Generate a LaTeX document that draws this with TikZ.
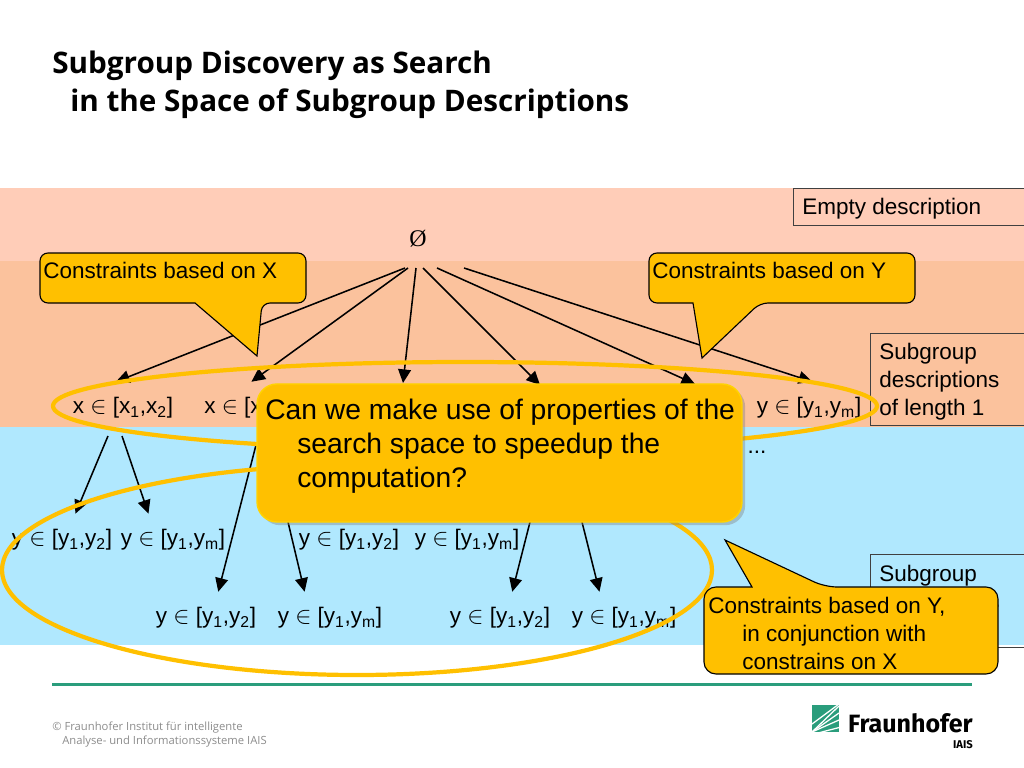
\documentclass[tikz,border=0pt]{standalone}
\usepackage{fontspec}
\setmainfont{Liberation Sans}
\newfontfamily\titlefont{Open Sans}
\newfontfamily\rootfont{Liberation Serif}
\newfontfamily\logofont{Fira Sans}
\usetikzlibrary{arrows.meta, positioning, shadows}
\definecolor{bandpink}{HTML}{FFCDB8}
\definecolor{bandorange}{HTML}{FBC29D}
\definecolor{bandblue}{HTML}{B0E8FE}
\definecolor{callyellow}{HTML}{FFC000}
\definecolor{rulegreen}{HTML}{2A9D7C}
\definecolor{footgray}{HTML}{8C8C8C}
\newcommand{\lo}[1]{\textsubscript{#1}}
\newcommand{\xin}[2]{x $\in$ [x\lo{#1},x\lo{#2}]}
\newcommand{\yin}[2]{y $\in$ [y\lo{#1},y\lo{#2}]}
\tikzset{
  labelbox/.style={draw=black!75, line width=0.7pt},
  labeltext/.style={anchor=north west, inner sep=0pt, align=left, font=\fontsize{16pt}{19.8pt}\selectfont},
  term/.style={inner sep=0pt, minimum height=1.3cm, font=\fontsize{16pt}{18pt}\selectfont},
  calloutpath/.style={draw=black, fill=callyellow, line width=0.8pt},
}
\begin{document}
\begin{tikzpicture}[x=0.025cm, y=-0.025cm]
  \useasboundingbox (0,0) rectangle (1024,768);

  % layers
  \fill[bandpink] (0,188) rectangle (1024,261);
  \fill[bandorange] (0,261) rectangle (1024,427);
  \fill[bandblue] (0,427) rectangle (1024,645);

  % title and footer
  \node[anchor=north west, inner sep=0pt, align=left, font=\titlefont\bfseries\fontsize{21.1pt}{26.6pt}\selectfont] (title) at (52,51)
    {Subgroup Discovery as Search\\\hspace*{0.45cm}in the Space of Subgroup Descriptions};
  \fill[rulegreen] (52,683) rectangle (972,686);
  \node[anchor=north west, inner sep=0pt, align=left, text=footgray, font=\titlefont\fontsize{8pt}{10pt}\selectfont] (foot) at (52,722)
    {© Fraunhofer Institut für intelligente\\\hspace*{0.25cm}Analyse- und Informationssysteme IAIS};

  % logo
  \begin{scope}
    \clip (812,705) rectangle (839,732);
    \fill[rulegreen] (812,705) rectangle (839,732);
    \foreach \yend in {706,713,720}
      \draw[white, line width=0.9pt] (812,732) -- (839,\yend);
    \draw[white, line width=0.9pt] (812,724) -- (839,704);
    \draw[white, line width=0.9pt] (818,733) -- (841,727);
  \end{scope}
  \node[anchor=east, inner sep=0pt, font=\logofont\bfseries\fontsize{17.8pt}{20pt}\selectfont] (logo) at (973,723) {Fraunhofer};
  \node[anchor=east, inner sep=0pt, font=\logofont\bfseries\fontsize{8pt}{10pt}\selectfont] (iais) at (973,745) {IAIS};

  % level descriptions
  \draw[labelbox] (793,188) rectangle (1024,225);
  \draw[labelbox] (870,333) rectangle (1024,425);
  \draw[labelbox] (870,554) rectangle (1024,647);
  \node[labeltext] (empty) at (802,198) {Empty description};
  \node[labeltext] (len1) at (879,343) {Subgroup\\descriptions\\of length 1};
  \node[labeltext] (len2) at (879,565) {Subgroup\\descriptions};

  % search space
  \node[font=\rootfont\fontsize{17pt}{19pt}\selectfont, inner sep=0pt] (root) at (418,239) {Ø};
  \node[term] (x1) at (123,408) {\xin{1}{2}};
  \node[term, anchor=west] (x2) at (204,408) {x $\in$ [x};
  \node[term] (y1) at (809,408) {\yin{1}{m}};
  \node[term] (a1) at (62,540) {\yin{1}{2}};
  \node[term] (a2) at (173,540) {\yin{1}{m}};
  \node[term] (b1) at (349,540) {\yin{1}{2}};
  \node[term] (b2) at (467,540) {\yin{1}{m}};
  \node[term] (c1) at (206,618) {\yin{1}{2}};
  \node[term] (c2) at (330,618) {\yin{1}{m}};
  \node[term] (d1) at (500,618) {\yin{1}{2}};
  \node[term] (d2) at (624,618) {\yin{1}{m}};
  \node[term] (more) at (757,452) {...};

  \coordinate (r1) at (405,268);
  \coordinate (r2) at (408,268);
  \coordinate (r3) at (416,268);
  \coordinate (r4) at (423,268);
  \coordinate (r5) at (437,268);
  \coordinate (r6) at (464,268);
  \coordinate (t3) at (403,383);
  \coordinate (t4) at (540,385);
  \coordinate (t5) at (695,384);
  \coordinate (s1) at (108,436);
  \coordinate (s2) at (122,436);
  \coordinate (s3) at (256,445);
  \coordinate (s4) at (288,522);
  \coordinate (s5) at (530,522);
  \coordinate (s6) at (582,522);

  \begin{scope}[every edge/.style={draw=black, line width=1.1pt, -{Triangle[length=3.4mm, width=3.2mm]}}]
    \path (r1) edge (x1.105);
    \path (r2) edge (x2.55);
    \path (r3) edge (t3);
    \path (r4) edge (t4);
    \path (r5) edge (t5);
    \path (r6) edge (y1.83);
    \path (s1) edge (a1.63);
    \path (s2) edge (a2.133);
    \path (s3) edge (c1.65);
    \path (s4) edge (c2.134);
    \path (s5) edge (d1.65);
    \path (s6) edge (d2.133);
  \end{scope}

  % groups of descriptions
  \draw[callyellow, line width=3pt] (465,406) ellipse [x radius=412, y radius=44];
  \draw[callyellow, line width=3pt] (357,570) ellipse [x radius=355, y radius=105];

  % callouts
  \draw[calloutpath, rounded corners=0.2cm] (195,303) -- (40,303) -- (40,253) -- (306,253) -- (306,303) -- (262,303)
    [sharp corners] -- (257,356) -- cycle;
  \node[labeltext] (consx) at (43,262) {Constraints based on X};
  \draw[calloutpath, rounded corners=0.2cm] (693,303) -- (649,303) -- (649,253) -- (915,253) -- (915,303) -- (760,303)
    [sharp corners] -- (702,358) -- cycle;
  \node[labeltext] (consy) at (652,262) {Constraints based on Y};
  \draw[calloutpath, rounded corners=0.3cm] (752,587) -- (704,587) -- (704,674) -- (998,674) -- (998,587) -- (825,587)
    [sharp corners] -- (725,540) -- cycle;
  \node[labeltext] (consxy) at (708,597) {Constraints based on Y,\\\hspace*{0.85cm}in conjunction with\\\hspace*{0.85cm}constrains on X};

  \node[draw=callyellow!70!yellow, fill=callyellow, line width=1pt, rounded corners=0.5cm, minimum width=12.12cm, minimum height=3.45cm,
    drop shadow={opacity=0.4, shadow xshift=0.08cm, shadow yshift=-0.08cm}] (question) at (499.5,453) {};
  \node[anchor=north west, inner sep=0pt, align=left, font=\fontsize{20.1pt}{24.1pt}\selectfont] (questiontext) at (265,399)
    {Can we make use of properties of the\\\hspace*{0.8cm}search space to speedup the\\\hspace*{0.8cm}computation?};
\end{tikzpicture}
\end{document}
